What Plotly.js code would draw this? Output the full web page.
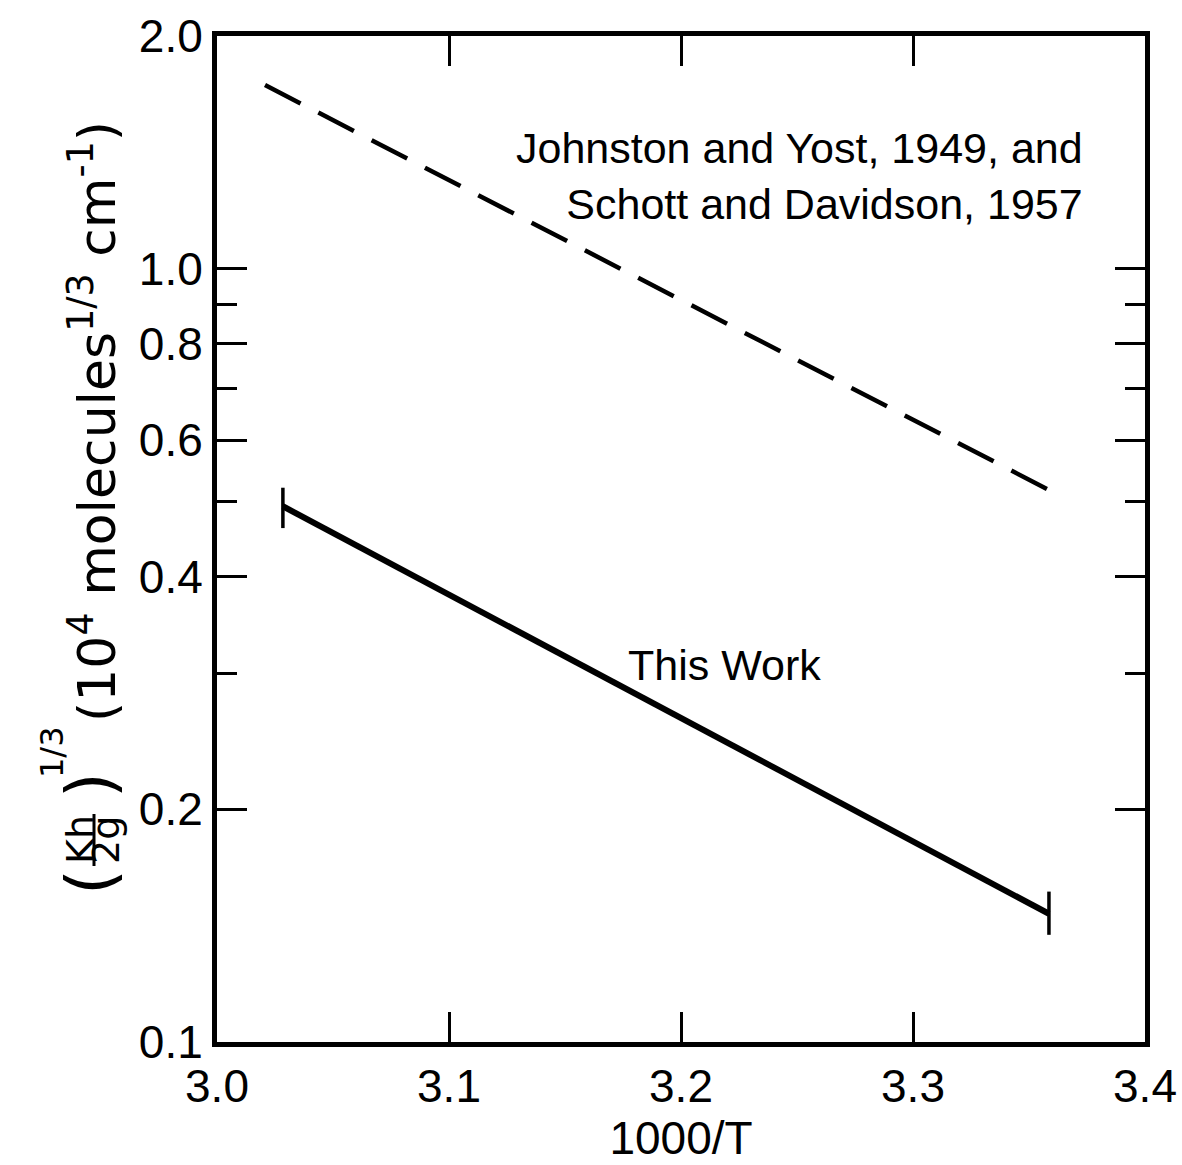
<!DOCTYPE html>
<html>
<head>
<meta charset="utf-8">
<script src="https://cdn.plot.ly/plotly-3.0.1.min.js"></script>
<style>
  html, body { margin: 0; padding: 0; background: #fff; }
  #chart { width: 1182px; height: 1165px; }
</style>
</head>
<body>
<div id="chart"></div>
<script>
// ---- data ----
const thisWorkX = [3.0284, 3.3586];
const thisWorkY = [0.493, 0.1465];
const thisWorkErrPlus = [0.028, 0.010];
const thisWorkErrMinus = [0.031, 0.0089];

const literatureX = [3.0207, 3.3578];
const literatureY = [1.728, 0.519];

const xTickVals = [3.0, 3.1, 3.2, 3.3, 3.4];
const xTickText = ['3.0', '3.1', '3.2', '3.3', '3.4'];
const yTickVals = [0.1, 0.2, 0.4, 0.6, 0.8, 1.0, 2.0];
const yTickText = ['0.1', '0.2', '0.4', '0.6', '0.8', '1.0', '2.0'];
const yMinorVals = [0.3, 0.5, 0.7, 0.9];

const literatureLabel = 'Johnston and Yost, 1949, and<br>Schott and Davidson, 1957';
const thisWorkLabel = 'This Work';
const xTitle = '1000/T';

const FONT = 'Liberation Sans, Arial, sans-serif';
const YFONT = 'DejaVu Sans, Liberation Sans, sans-serif';

const traces = [
  {
    x: literatureX, y: literatureY, type: 'scatter', mode: 'lines',
    line: { color: '#000', width: 4.5, dash: '40px,20px' },
    hoverinfo: 'skip', showlegend: false
  },
  {
    x: thisWorkX, y: thisWorkY, type: 'scatter', mode: 'lines',
    line: { color: '#000', width: 6 },
    error_y: { type: 'data', symmetric: false, array: thisWorkErrPlus, arrayminus: thisWorkErrMinus,
               color: '#000', thickness: 3.5, width: 0 },
    hoverinfo: 'skip', showlegend: false
  }
];

const L = 217, R = 1145, T = 36, B = 1042;
const W = R - L, H = B - T;
const px = v => (v - L) / W;      // pixel x -> paper x
const py = v => (B - v) / H;      // pixel y -> paper y

const txt = (x, y, text, size, extra) => Object.assign({
  xref: 'paper', yref: 'paper', x: px(x), y: py(y), xanchor: 'center', yanchor: 'middle',
  text: text, showarrow: false, font: { size: size, family: YFONT, color: '#000' }
}, extra || {});

const layout = {
  width: 1182, height: 1165,
  margin: { l: L, r: 1182 - R, t: T, b: 1165 - B },
  paper_bgcolor: '#fff', plot_bgcolor: '#fff',
  font: { family: FONT, color: '#000' },
  showlegend: false,
  xaxis: {
    range: [3.0, 3.4], tickvals: xTickVals, ticktext: xTickText,
    ticks: 'inside', ticklen: 30, tickwidth: 3, tickcolor: '#000',
    showline: true, linewidth: 5, linecolor: '#000', mirror: 'ticks',
    showgrid: false, zeroline: false,
    tickfont: { size: 46, family: FONT, color: '#000' },
    ticklabelstandoff: 0,
    title: { text: xTitle, font: { size: 46, family: FONT, color: '#000' }, standoff: 0 }
  },
  yaxis: {
    type: 'log', range: [-1, Math.log10(2)],
    tickvals: yTickVals, ticktext: yTickText,
    ticks: 'inside', ticklen: 30, tickwidth: 3, tickcolor: '#000',
    minor: { tickvals: yMinorVals, ticks: 'inside', ticklen: 20, tickwidth: 3, tickcolor: '#000', showgrid: false },
    showline: true, linewidth: 5, linecolor: '#000', mirror: 'ticks',
    showgrid: false, zeroline: false,
    tickfont: { size: 46, family: FONT, color: '#000' },
    ticklabelstandoff: 0
  },
  annotations: [
    { xref: 'paper', yref: 'paper', x: px(1085), y: py(176), xanchor: 'right', yanchor: 'middle',
      text: literatureLabel, align: 'right', showarrow: false,
      font: { size: 43, family: FONT, color: '#000' } },
    { xref: 'paper', yref: 'paper', x: px(724), y: py(665), xanchor: 'center', yanchor: 'middle',
      text: thisWorkLabel, showarrow: false,
      font: { size: 43, family: FONT, color: '#000' } },
    // y axis title, assembled piecewise (rotated)
    txt(90, 882, '(', 66, { textangle: -90 }),
    txt(80, 840, 'Kh', 38, { textangle: -90 }),
    txt(106, 840, '2g', 38, { textangle: -90 }),
    txt(90, 785, ')', 66, { textangle: -90 }),
    txt(52, 752, '1/3', 32, { textangle: -90 }),
    txt(93, 422, '(10<sup>4</sup> molecules<sup>1/3</sup> cm<sup>-1</sup>)', 52, { textangle: -90 })
  ],
  shapes: [
    { type: 'line', xref: 'paper', yref: 'paper', x0: px(94), x1: px(94), y0: py(814), y1: py(866),
      line: { color: '#000', width: 3 } }
  ]
};

Plotly.newPlot('chart', traces, layout, { displayModeBar: false, staticPlot: true });
</script>
</body>
</html>
